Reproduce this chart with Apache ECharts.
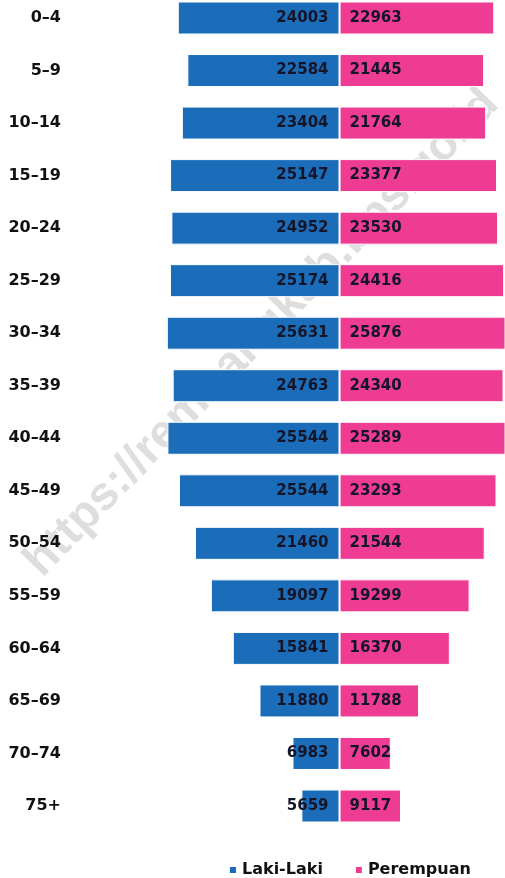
<!DOCTYPE html>
<html>
<head>
<meta charset="utf-8">
<script src="https://cdn.jsdelivr.net/npm/echarts@6/dist/echarts.min.js"></script>
<style>
  html, body { margin: 0; padding: 0; background: #fff; }
  #chart { width: 505px; height: 878px; }
</style>
</head>
<body>
<div id="chart"></div>
<script>
// kelompok umur
const ageGroups = ["0–4", "5–9", "10–14", "15–19", "20–24", "25–29", "30–34", "35–39",
  "40–44", "45–49", "50–54", "55–59", "60–64", "65–69", "70–74", "75+"];
// panjang batang
const lakiLaki = [24003, 22584, 23404, 25147, 24952, 25174, 25631, 24763,
  25544, 23820, 21460, 19097, 15841, 11880, 6983, 5659];
const perempuan = [22963, 21445, 21764, 23377, 23530, 24416, 25876, 24340,
  25289, 23293, 21544, 19299, 16370, 11788, 7602, 9117];
// angka yang tertulis di batang
const lakiLabels = ["24003", "22584", "23404", "25147", "24952", "25174", "25631", "24763",
  "25544", "25544", "21460", "19097", "15841", "11880", "6983", "5659"];
const perempuanLabels = ["22963", "21445", "21764", "23377", "23530", "24416", "25876", "24340",
  "25289", "23293", "21544", "19299", "16370", "11788", "7602", "9117"];

const chart = echarts.init(document.getElementById("chart"));

const fontFamily = "DejaVu Sans";
const valueLabel = {
  show: true,
  fontFamily: fontFamily,
  fontWeight: "bold",
  fontSize: 15,
  color: "#15152a",
};

const option = {
  animation: false,
  backgroundColor: "#fff",
  graphic: {
    z: 0,
    elements: [
      {
        type: "text",
        x: 262,
        y: 333,
        rotation: Math.PI / 4 * 1.02,
        z: 0,
        style: {
          text: "https://rembangkab.bps.go.id",
          fill: "#dedede",
          font: "bold 47px 'Liberation Sans'",
          textAlign: "center",
          textVerticalAlign: "middle",
        },
      },
    ],
  },
  legend: {
    left: 223,
    top: 857,
    icon: "rect",
    itemWidth: 8,
    itemHeight: 8,
    itemGap: 31,
    textStyle: {
      fontFamily: fontFamily,
      fontWeight: "bold",
      fontSize: 16,
      color: "#111",
    },
    data: ["Laki-Laki", "Perempuan"],
  },
  grid: {
    left: 70,
    right: 0,
    top: 18,
    height: 788,
  },
  xAxis: {
    type: "value",
    min: -40000,
    max: 24555,
    show: false,
  },
  yAxis: {
    type: "category",
    inverse: true,
    boundaryGap: false,
    data: ageGroups,
    axisLine: { show: false },
    axisTick: { show: false },
    axisLabel: {
      margin: 9,
      fontFamily: fontFamily,
      fontWeight: "bold",
      fontSize: 16,
      color: "#111",
    },
  },
  series: [
    {
      name: "Laki-Laki",
      type: "bar",
      z: 10,
      barWidth: 33,
      barGap: "-100%",
      data: lakiLaki.map((v) => -v),
      itemStyle: { color: "#1b6db9", borderColor: "#fff", borderWidth: 1 },
      label: Object.assign({}, valueLabel, {
        position: "insideRight",
        distance: 11,
        formatter: (p) => lakiLabels[p.dataIndex],
      }),
    },
    {
      name: "Perempuan",
      type: "bar",
      z: 10,
      barWidth: 33,
      data: perempuan,
      itemStyle: { color: "#ee3b94", borderColor: "#fff", borderWidth: 1 },
      label: Object.assign({}, valueLabel, {
        position: "insideLeft",
        distance: 10,
        formatter: (p) => perempuanLabels[p.dataIndex],
      }),
    },
  ],
};

chart.setOption(option);
</script>
</body>
</html>
